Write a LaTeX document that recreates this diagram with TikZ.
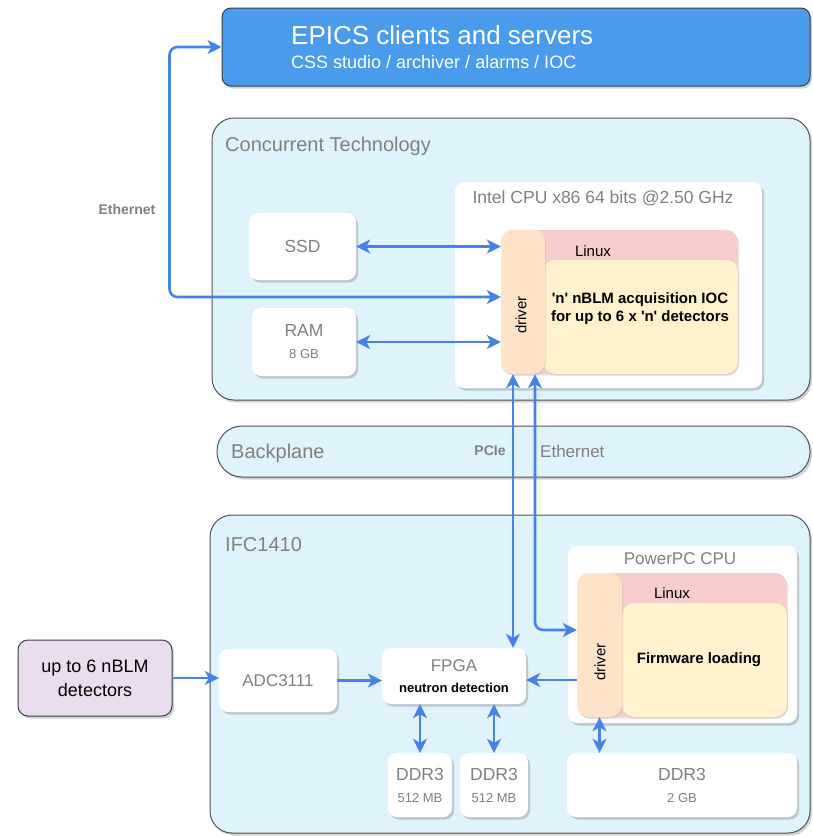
\documentclass[tikz,border=0pt]{standalone}
\usepackage{fontspec}
\setmainfont{Liberation Sans}
\usetikzlibrary{arrows.meta,shadows}

\definecolor{epicsblue}{HTML}{4A9BEC}
\definecolor{edgedark}{HTML}{3A3F45}
\definecolor{framefill}{HTML}{DFF3FC}
\definecolor{framegrey}{HTML}{50555A}
\definecolor{textgrey}{HTML}{808080}
\definecolor{linuxpink}{HTML}{F8CECC}
\definecolor{iocyellow}{HTML}{FFF2CC}
\definecolor{drvorange}{HTML}{FFE3C8}
\definecolor{detpurple}{HTML}{EBDDF0}
\definecolor{linkblue}{HTML}{4682E8}

\newcommand{\fsz}[2]{\fontsize{#1}{#2}\selectfont}
\newcommand{\q}{\textquotesingle}

\tikzset{
  shade/.style={drop shadow={shadow xshift=2pt,shadow yshift=-2.5pt,opacity=.3,fill=black!60}},
  box/.style={rectangle,rounded corners=9pt,fill=white,inner sep=0pt,align=center,text=textgrey,shade},
  frame/.style={rectangle,rounded corners=22pt,draw=framegrey,line width=1pt,fill=framefill,inner sep=0pt,shade},
  layer/.style={rectangle,rounded corners=12pt,inner sep=0pt,drop shadow={shadow xshift=1pt,shadow yshift=-1.5pt,opacity=.15,fill=black!60}},
  ttl/.style={inner sep=0pt,text=textgrey},
  link/.style={draw=linkblue,line width=2.6pt,-{Stealth[length=14pt,width=14pt,inset=4pt]}},
  dlink/.style={draw=linkblue,line width=2.6pt,{Stealth[length=14pt,width=14pt,inset=4pt]}-{Stealth[length=14pt,width=14pt,inset=4pt]}},
}

\begin{document}
\begin{tikzpicture}[x=1pt,y=-1pt]
  \useasboundingbox (0,0) rectangle (812,836);

  % EPICS
  \node[box,fill=epicsblue,draw=edgedark,line width=1pt,minimum width=588,minimum height=78] (epics) at (516,47) {};
  \node[anchor=west,inner sep=0pt,text=white,font=\fsz{26}{30}] (epicsttl) at (291,35) {EPICS clients and servers};
  \node[anchor=west,inner sep=0pt,text=white,font=\fsz{18}{22}] (epicssub) at (291,62) {CSS studio / archiver / alarms / IOC};

  % Concurrent Technology
  \node[frame,minimum width=598,minimum height=282] (ct) at (511,259) {};
  \node[ttl,anchor=west,font=\fsz{20}{24}] (ctttl) at (225,146) {Concurrent Technology};
  \node[box,minimum width=307,minimum height=206] (intel) at (608.5,285) {};
  \node[ttl,font=\fsz{17.5}{21}] (intelttl) at (603,198) {Intel CPU x86 64 bits @2.50 GHz};
  \node[layer,fill=linuxpink,minimum width=237,minimum height=144] (cpulinux) at (619.5,302) {};
  \node[layer,fill=iocyellow,minimum width=195,minimum height=114] (cpuioc) at (640.5,317) {};
  \node[layer,fill=drvorange,minimum width=44,minimum height=144] (cpudrv) at (523,302) {};
  \node[inner sep=0pt,font=\fsz{15}{18}] (cpulinuxttl) at (593,251) {Linux};
  \node[inner sep=0pt,font=\fsz{15}{18}\bfseries,align=center] (iocttl) at (640,309) {\q n\q{} nBLM acquisition IOC\\for up to 6 x \q n\q{} detectors};
  \node[inner sep=0pt,font=\fsz{15}{18},rotate=90] (cpudrvttl) at (521,315) {driver};
  \node[box,font=\fsz{17.5}{21},minimum width=107,minimum height=67] (ssd) at (302.5,246.5) {SSD};
  \node[box,font=\fsz{17.5}{21},minimum width=104,minimum height=68] (ram) at (304,342) {RAM\\[1pt]{\fsz{13}{16}8 GB}};

  % Backplane
  \node[frame,rounded corners=25pt,minimum width=593,minimum height=51] (bp) at (513.5,451.5) {};
  \node[ttl,anchor=west,font=\fsz{20}{24}] (bpttl) at (231,453) {Backplane};
  \node[ttl,font=\fsz{14}{17}\bfseries] (pciettl) at (490,451) {PCIe};
  \node[ttl,anchor=west,font=\fsz{17}{20}] (bpethttl) at (540,451) {Ethernet};

  % IFC1410
  \node[frame,minimum width=600,minimum height=318] (ifc) at (510,674) {};
  \node[ttl,anchor=west,font=\fsz{20}{24}] (ifcttl) at (225,545) {IFC1410};
  \node[box,rounded corners=10pt,fill=detpurple,draw=edgedark,line width=1pt,text=black,font=\fsz{18}{24},minimum width=154,minimum height=76] (det) at (95,678) {up to 6 nBLM\\detectors};
  \node[box,font=\fsz{17}{21},minimum width=118,minimum height=63] (adc) at (278,680.5) {ADC3111};
  \node[box,font=\fsz{17}{21},minimum width=144,minimum height=56] (fpga) at (454,676) {FPGA\\{\fsz{13}{16}\bfseries\color{black}neutron detection}};
  \node[box,minimum width=229,minimum height=177] (ppc) at (682.5,634.5) {};
  \node[ttl,font=\fsz{17}{20}] (ppcttl) at (680,559) {PowerPC CPU};
  \node[layer,fill=linuxpink,minimum width=210,minimum height=144] (ppclinux) at (682,645) {};
  \node[layer,fill=iocyellow,minimum width=165,minimum height=114] (ppcfw) at (704.5,660) {};
  \node[layer,fill=drvorange,minimum width=45,minimum height=144] (ppcdrv) at (599.5,645) {};
  \node[inner sep=0pt,font=\fsz{15}{18}] (ppclinuxttl) at (672,593) {Linux};
  \node[inner sep=0pt,font=\fsz{15}{18}\bfseries] (fwttl) at (699,660) {Firmware loading};
  \node[inner sep=0pt,font=\fsz{15}{18},rotate=90] (ppcdrvttl) at (600,662) {driver};
  \node[box,font=\fsz{17.5}{21},minimum width=64,minimum height=64] (ddra) at (420,785) {DDR3\\[1pt]{\fsz{13}{16}512 MB}};
  \node[box,font=\fsz{17.5}{21},minimum width=68,minimum height=64] (ddrb) at (494,785) {DDR3\\[1pt]{\fsz{13}{16}512 MB}};
  \node[box,font=\fsz{17.5}{21},minimum width=230,minimum height=64] (ddrc) at (682,785) {DDR3\\[1pt]{\fsz{13}{16}2 GB}};

  % links
  \coordinate (pcie) at (513,0);
  \coordinate (bpeth) at (535,0);
  \node[ttl,font=\fsz{14}{17}\bfseries] (ethttl) at (127,209) {Ethernet};
  \draw[dlink,rounded corners=8pt] (epics.west) -- ++(-52,0) |- ([yshift=5pt]cpudrv.west);
  \draw[dlink] (ssd.east) -- (ssd.east -| cpudrv.west);
  \draw[dlink] (ram.east) -- (ram.east -| cpudrv.west);
  \draw[dlink] (pcie |- fpga.north) -- (pcie |- cpudrv.south);
  \draw[dlink,rounded corners=8pt] (bpeth |- cpudrv.south) |- ([yshift=15pt]ppcdrv.west);
  \draw[link] (det.east) -- (det.east -| adc.west);
  \draw[link] (adc.east) -- (adc.east -| fpga.west);
  \draw[link] ([yshift=-4pt]fpga.east -| ppcdrv.west) -- ([yshift=-4pt]fpga.east);
  \draw[dlink] (ddra.north) -- (ddra.north |- fpga.south);
  \draw[dlink] (ddrb.north) -- (ddrb.north |- fpga.south);
  \draw[dlink] (ppcdrv.south) -- (ppcdrv.south |- ddrc.north);
\end{tikzpicture}
\end{document}
